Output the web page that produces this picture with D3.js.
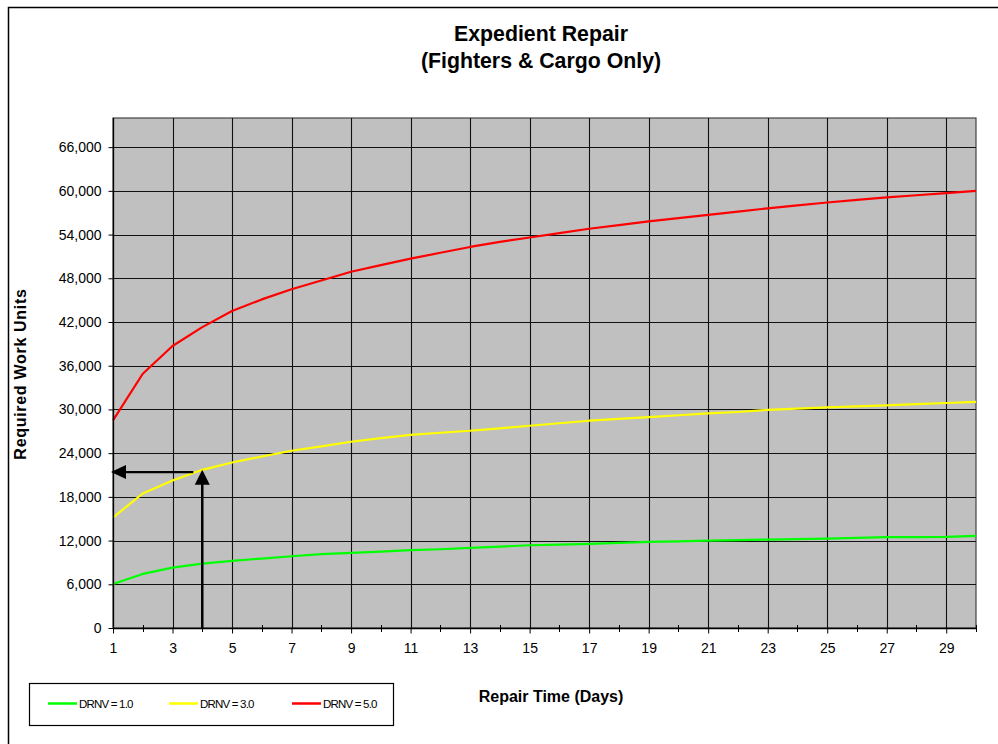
<!DOCTYPE html>
<html>
<head>
<meta charset="utf-8">
<script src="https://cdn.jsdelivr.net/npm/d3@7"></script>
<style>
  html, body { margin: 0; padding: 0; background: #fff; }
  svg { display: block; font-family: Arial, "Liberation Sans", sans-serif; }
</style>
</head>
<body>
<svg id="chart" width="998" height="744"></svg>
<script>
// Repair time in days (category axis)
const days = d3.range(1, 31);

// Required work units for each DRNV level
const drnv10 = [6050, 7420, 8290, 8840, 9210, 9530, 9850, 10130, 10310, 10490,
                10680, 10810, 10990, 11170, 11360, 11450, 11540, 11680, 11820, 11900,
                12000, 12070, 12140, 12200, 12270, 12360, 12460, 12480, 12500, 12640];
const drnv30 = [15160, 18460, 20250, 21710, 22720, 23540, 24330, 24920, 25560, 26050,
                26520, 26800, 27070, 27400, 27760, 28100, 28450, 28700, 28950, 29200,
                29450, 29650, 29940, 30100, 30280, 30420, 30570, 30720, 30880, 31040];
const drnv50 = [28500, 34900, 38700, 41300, 43500, 45100, 46500, 47700, 48900, 49800,
                50700, 51500, 52300, 53000, 53600, 54200, 54800, 55300, 55800, 56250,
                56700, 57150, 57600, 58000, 58400, 58750, 59100, 59400, 59700, 60000];

const seriesNames = ["DRNV = 1.0", "DRNV = 3.0", "DRNV = 5.0"];
const seriesColors = ["#00ff00", "#ffff00", "#ff0000"];

// Axis ticks
const yTicks = d3.range(0, 66001, 6000);
const xLabelDays = d3.range(1, 30, 2);
const xMinorDays = d3.range(2, 31, 2);

// Worked example: a 4-day repair at DRNV 3.0
const exampleDay = 4;
const exampleReadValue = 21400;

const svg = d3.select("#chart");

// Outer chart frame
svg.append("rect")
  .attr("x", 8.5).attr("y", 7.5)
  .attr("width", 1100).attr("height", 900)
  .attr("fill", "#fff").attr("stroke", "#000").attr("stroke-width", 1.5);

const plot = { left: 113, right: 976, top: 118, bottom: 628 };

const x = d3.scaleLinear().domain([1, 30]).range([plot.left, plot.right]);
const y = d3.scaleLinear().domain([0, 70000]).range([plot.bottom, plot.top]);

// Plot background
svg.append("rect")
  .attr("x", plot.left).attr("y", plot.top)
  .attr("width", plot.right - plot.left).attr("height", plot.bottom - plot.top)
  .attr("fill", "#c0c0c0").attr("stroke", "#444").attr("stroke-width", 1.2);

// Gridlines
const grid = svg.append("g").attr("stroke", "#111").attr("stroke-width", 1.1);
grid.selectAll("line.h").data(yTicks.filter(v => v > 0)).join("line")
  .attr("class", "h")
  .attr("x1", plot.left).attr("x2", plot.right)
  .attr("y1", d => Math.round(y(d)) + 0.5).attr("y2", d => Math.round(y(d)) + 0.5);
grid.selectAll("line.v").data(xLabelDays.filter(d => d > 1)).join("line")
  .attr("class", "v")
  .attr("y1", plot.top).attr("y2", plot.bottom)
  .attr("x1", d => Math.round(x(d)) + 0.5).attr("x2", d => Math.round(x(d)) + 0.5);

// Series lines
const line = d3.line().x((d, i) => x(days[i])).y(d => y(d));
[drnv10, drnv30, drnv50].forEach((vals, k) => {
  svg.append("path")
    .datum(vals)
    .attr("d", line)
    .attr("fill", "none")
    .attr("stroke", seriesColors[k])
    .attr("stroke-width", 2.2)
    .attr("stroke-linejoin", "round");
});

// Y axis
const yAxis = d3.axisLeft(y)
  .tickValues(yTicks)
  .tickSize(5)
  .tickPadding(7)
  .tickFormat(d3.format(","));
const gy = svg.append("g")
  .attr("transform", `translate(${plot.left + 0.5},0)`)
  .call(yAxis);
gy.select(".domain").attr("stroke", "#000").attr("stroke-width", 1.3)
  .attr("d", `M0,${plot.bottom}V${plot.top}`);
gy.selectAll(".tick line").attr("stroke", "#000");
gy.selectAll(".tick text")
  .attr("font-size", 14).attr("fill", "#000")
  .attr("font-family", "Arial, 'Liberation Sans', sans-serif");

// X axis (labelled major ticks at odd days)
const xAxis = d3.axisBottom(x)
  .tickValues(xLabelDays)
  .tickSize(5)
  .tickPadding(10)
  .tickFormat(d3.format("d"));
const gx = svg.append("g")
  .attr("transform", `translate(0,${plot.bottom + 0.5})`)
  .call(xAxis);
gx.select(".domain").attr("stroke", "#000").attr("stroke-width", 1.3)
  .attr("d", `M${plot.left},0H${plot.right}`);
gx.selectAll(".tick line").attr("stroke", "#000");
gx.selectAll(".tick text")
  .attr("font-size", 14).attr("fill", "#000")
  .attr("font-family", "Arial, 'Liberation Sans', sans-serif");

// Minor ticks at even days, crossing the axis
svg.append("g").selectAll("line").data(xMinorDays).join("line")
  .attr("x1", d => Math.round(x(d)) + 0.5).attr("x2", d => Math.round(x(d)) + 0.5)
  .attr("y1", plot.bottom - 3).attr("y2", plot.bottom + 4)
  .attr("stroke", "#000");

// Example arrows: up from day 4 to the DRNV 3.0 curve, then left to the axis
const arrows = svg.append("g").attr("fill", "#000").attr("stroke", "#000");
const ax = x(exampleDay);
const tipY = y(drnv30[exampleDay - 1]);
arrows.append("line")
  .attr("x1", ax).attr("x2", ax)
  .attr("y1", plot.bottom).attr("y2", tipY + 12)
  .attr("stroke-width", 2.5);
arrows.append("path")
  .attr("stroke", "none")
  .attr("d", `M${ax},${tipY} L${ax - 7.5},${tipY + 15} L${ax + 7.5},${tipY + 15} Z`);
const hy = y(exampleReadValue);
arrows.append("line")
  .attr("x1", ax - 9).attr("x2", plot.left + 12)
  .attr("y1", hy).attr("y2", hy)
  .attr("stroke-width", 2.2);
arrows.append("path")
  .attr("stroke", "none")
  .attr("d", `M${plot.left - 2},${hy} L${plot.left + 13},${hy - 7} L${plot.left + 13},${hy + 7} Z`);

// Titles
const title = svg.append("text")
  .attr("text-anchor", "middle")
  .attr("font-weight", "bold")
  .attr("font-size", 21.3)
  .attr("fill", "#000");
title.append("tspan").attr("x", 541).attr("y", 41).text("Expedient Repair");
title.append("tspan").attr("x", 541).attr("y", 68).text("(Fighters & Cargo Only)");

svg.append("text")
  .attr("transform", "translate(26,374) rotate(-90)")
  .attr("text-anchor", "middle")
  .attr("font-weight", "bold")
  .attr("font-size", 16)
  .attr("letter-spacing", "0.7px")
  .attr("fill", "#000")
  .text("Required Work Units");

svg.append("text")
  .attr("x", 551).attr("y", 702)
  .attr("text-anchor", "middle")
  .attr("font-weight", "bold")
  .attr("font-size", 16)
  .attr("fill", "#000")
  .text("Repair Time (Days)");

// Legend
const legend = svg.append("g");
legend.append("rect")
  .attr("x", 29.5).attr("y", 683.5).attr("width", 364).attr("height", 42)
  .attr("fill", "#fff").attr("stroke", "#000").attr("stroke-width", 1.2);
const legendX = [48, 169, 292];
seriesNames.forEach((name, k) => {
  legend.append("line")
    .attr("x1", legendX[k]).attr("x2", legendX[k] + 29)
    .attr("y1", 703.5).attr("y2", 703.5)
    .attr("stroke", seriesColors[k]).attr("stroke-width", 2.5);
  legend.append("text")
    .attr("x", legendX[k] + 31).attr("y", 707.5)
    .attr("font-size", 11.5)
    .attr("letter-spacing", "-0.8px")
    .attr("fill", "#000")
    .text(name);
});
</script>
</body>
</html>
